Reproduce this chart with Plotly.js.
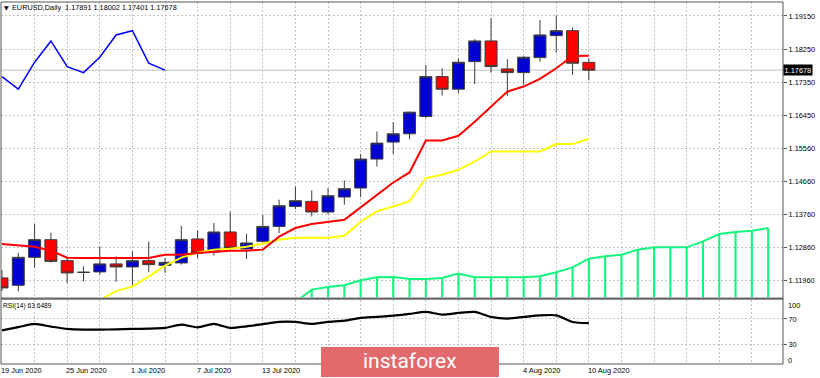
<!DOCTYPE html>
<html><head><meta charset="utf-8">
<script src="https://cdn.plot.ly/plotly-3.0.1.min.js"></script>
<style>html,body{margin:0;padding:0;background:#fff;}#chart{width:820px;height:378px;}</style>
</head><body><div id="chart"></div>
<script>
// ---- data (bar index 0 = 19 Jun 2020) ----
const dates = ['19 Jun 2020','22 Jun 2020','23 Jun 2020','24 Jun 2020','25 Jun 2020','26 Jun 2020','29 Jun 2020','30 Jun 2020',
 '1 Jul 2020','2 Jul 2020','3 Jul 2020','6 Jul 2020','7 Jul 2020','8 Jul 2020','9 Jul 2020','10 Jul 2020','13 Jul 2020','14 Jul 2020',
 '15 Jul 2020','16 Jul 2020','17 Jul 2020','20 Jul 2020','21 Jul 2020','22 Jul 2020','23 Jul 2020','24 Jul 2020','27 Jul 2020',
 '28 Jul 2020','29 Jul 2020','30 Jul 2020','31 Jul 2020','3 Aug 2020','4 Aug 2020','5 Aug 2020','6 Aug 2020','7 Aug 2020','10 Aug 2020'];
// date labels that are visible (the others sit under the watermark)
const dateLabelIdx = [0, 4, 8, 12, 16, 32, 36];
const open  = [1.12034,1.11833,1.12593,1.13073,1.12503,1.12186,1.12197,1.12414,1.12332,1.12503,1.12376,1.12441,1.13092,1.12739,1.13282,1.12820,1.13027,1.13434,1.13976,1.14112,1.13824,1.14231,1.14476,1.15262,1.15724,1.15949,1.16418,1.17503,1.17161,1.17910,1.18472,1.17712,1.17612,1.18019,1.18616,1.18751,1.17891];
const high  = [1.12250,1.12712,1.13499,1.13263,1.12576,1.12348,1.12891,1.12620,1.12756,1.13027,1.12576,1.13453,1.13325,1.13526,1.13832,1.13236,1.13751,1.14158,1.14519,1.14410,1.14476,1.14682,1.15398,1.16011,1.16266,1.16554,1.17821,1.17731,1.18000,1.18520,1.19088,1.17975,1.18060,1.19041,1.19158,1.18843,1.18002];
const low   = [1.11680,1.11670,1.12305,1.12441,1.11898,1.11942,1.12123,1.11925,1.11833,1.12186,1.12169,1.12400,1.12576,1.12639,1.12802,1.12549,1.12991,1.13255,1.13900,1.13705,1.13770,1.14022,1.14231,1.15062,1.15398,1.15805,1.16380,1.16988,1.17050,1.17305,1.17612,1.16980,1.17278,1.17910,1.18154,1.17549,1.17401];
const close = [1.11763,1.12593,1.13073,1.12484,1.12169,1.12186,1.12414,1.12332,1.12503,1.12395,1.12457,1.13073,1.12712,1.13282,1.12848,1.12983,1.13434,1.13995,1.14131,1.13824,1.14267,1.14457,1.15262,1.15696,1.15949,1.16537,1.17503,1.17161,1.17894,1.18472,1.17775,1.17612,1.18030,1.18635,1.18751,1.17867,1.17678];
const tenkan = [1.12956,1.12924,1.12883,1.12774,1.12585,1.12576,1.12576,1.12576,1.12576,1.12576,1.12666,1.12666,1.12712,1.12747,1.12774,1.12774,1.12802,1.13154,1.13390,1.13499,1.13553,1.13615,1.13949,1.14294,1.14627,1.14899,1.15767,1.15767,1.15894,1.16274,1.16689,1.17096,1.17232,1.17441,1.17731,1.18065,1.18073];
const kijunStart = 6;
const kijun = [1.11430,1.11675,1.11798,1.12069,1.12367,1.12585,1.12720,1.12802,1.12829,1.12883,1.12964,1.13073,1.13127,1.13127,1.13127,1.13181,1.13561,1.13841,1.13968,1.14112,1.14747,1.14836,1.14972,1.15197,1.15468,1.15468,1.15468,1.15468,1.15669,1.15669,1.15813];
const cloudStart = 18;
const cloud = [1.11377,1.11716,1.11790,1.11833,1.11969,1.12050,1.12061,1.12007,1.12007,1.12034,1.12150,1.12050,1.12050,1.12050,1.12050,1.12077,1.12186,1.12321,1.12557,1.12620,1.12666,1.12802,1.12864,1.12864,1.12864,1.13027,1.13227,1.13282,1.13317,1.13390];
const chikouShift = 26;
const rsi = [52.3,57.3,62.3,58.1,54.5,53.4,53.4,53.9,54.5,55.0,56.1,61.2,57.0,62.3,56.1,58.6,62.0,65.4,65.4,62.3,65.4,67.4,71.7,73.2,75.2,77.9,81.0,76.8,79.4,81.0,73.2,70.6,73.2,75.7,75.7,65.4,63.6489];
const priceTicks = [1.1196,1.1286,1.1376,1.1466,1.1556,1.1645,1.1735,1.1825,1.1915];
const rsiTicks = [30,70];

// ---- derived ----
const idx = close.map((_, i) => i);
const kijunX = kijun.map((_, i) => i + kijunStart);
const cloudX = cloud.map((_, i) => i + cloudStart);
const chikou = close.slice(chikouShift);
const chikouX = chikou.map((_, i) => i);
const last = close.length - 1;
const yRange = [1.11499, 1.19530];

const FONT = 'Liberation Sans, Arial, sans-serif';
const GRID = '#c4c4c4';
const GREEN = '#14f57e';

const traces = [
  {type:'bar', x: cloudX, y: cloud.map(v => v - yRange[0]), base: yRange[0], width: 0.13,
   marker:{color: GREEN, line:{width:0}}, xaxis:'x', yaxis:'y', hoverinfo:'skip'},
  {type:'scatter', mode:'lines', x: cloudX, y: cloud, line:{color: GREEN, width:2}, xaxis:'x', yaxis:'y', hoverinfo:'skip'},
  {type:'candlestick', x: idx, open, high, low, close, xaxis:'x', yaxis:'y', whiskerwidth:0,
   increasing:{fillcolor:'#0000d0', line:{color:'#3c3c3c', width:1}},
   decreasing:{fillcolor:'#ff0000', line:{color:'#3c3c3c', width:1}}, hoverinfo:'skip'},
  {type:'scatter', mode:'lines', x: kijunX, y: kijun, line:{color:'#ffff00', width:2}, xaxis:'x', yaxis:'y', hoverinfo:'skip'},
  {type:'scatter', mode:'lines', x: idx, y: tenkan, line:{color:'#ff0000', width:2}, xaxis:'x', yaxis:'y', hoverinfo:'skip'},
  {type:'scatter', mode:'lines', x: chikouX, y: chikou, line:{color:'#0000ff', width:1.5}, xaxis:'x', yaxis:'y', hoverinfo:'skip'},
  {type:'scatter', mode:'lines', x: idx, y: rsi, line:{color:'#000000', width:2.2, shape:'spline', smoothing:0.6}, xaxis:'x', yaxis:'y2', hoverinfo:'skip'}
];

// pixel geometry helpers (paper = plot area 1..783 x, 2..364 y)
const H = 362;
const py = px => (364 - px) / H;

const annotations = [];
dateLabelIdx.forEach(i => {
  annotations.push({x: i, xref:'x', y: py(370.5), yref:'paper', xanchor:'left', yanchor:'middle', xshift:-3,
    text: dates[i], showarrow:false, font:{family:FONT, size:7.4, color:'#000'}});
});
const fmt = v => v.toFixed(5);
annotations.push({x: 0.0, xref:'paper', y: py(7), yref:'paper', xanchor:'left', yanchor:'middle', xshift:1,
  text:'▼', showarrow:false, font:{family:'DejaVu Sans, sans-serif', size:6, color:'#000'}});
annotations.push({x: 0.0, xref:'paper', y: py(7), yref:'paper', xanchor:'left', yanchor:'middle', xshift:9,
  text:'EURUSD,Daily  ' + [open[last], high[last], low[last], close[last]].map(fmt).join(' '),
  showarrow:false, font:{family:FONT, size:7.3, color:'#000'}});
annotations.push({x: 0.0, xref:'paper', y: py(305.5), yref:'paper', xanchor:'left', yanchor:'middle', xshift:0,
  text:'RSI(14) ' + rsi[last].toFixed(4), showarrow:false, font:{family:FONT, size:6.6, color:'#000'}});
annotations.push({x: 1, xref:'paper', y: close[last], yref:'y', xanchor:'left', yanchor:'middle', xshift:0,
  text: fmt(close[last]), bgcolor:'#000', borderpad:0.5, showarrow:false, font:{family:FONT, size:7.4, color:'#fff'}});
annotations.push({x: 1, xref:'paper', y: py(305), yref:'paper', xanchor:'left', yanchor:'middle', xshift:3,
  text:'100', showarrow:false, font:{family:FONT, size:7.4, color:'#000'}});
annotations.push({x: 1, xref:'paper', y: py(360), yref:'paper', xanchor:'left', yanchor:'middle', xshift:3,
  text:'0', showarrow:false, font:{family:FONT, size:7.4, color:'#000'}});
annotations.push({x: (410 - 1) / 782, xref:'paper', y: py(361), yref:'paper', xanchor:'center', yanchor:'middle',
  text:'instaforex', showarrow:false, font:{family:'Roboto, Open Sans, sans-serif', size:21, color:'#ffffff'}});

const shapes = [
  {type:'line', xref:'paper', x0:0, x1:1, yref:'y', y0: close[last], y1: close[last], line:{color:'#c0c0c0', width:1}, layer:'below'},
  {type:'rect', xref:'paper', x0:0, x1:1, yref:'paper', y0: py(299.8), y1: py(297.4), fillcolor:'#6a6a6a', line:{width:0}},
  {type:'rect', xref:'paper', x0:0, x1:1, yref:'paper', y0:0, y1:1, line:{color:'#555', width:1}},
  {type:'rect', xref:'paper', x0:(321 - 1)/782, x1:(499 - 1)/782, yref:'paper', y0: py(377), y1: py(347),
   fillcolor:'#e26a6c', line:{width:0}, layer:'above'}
];

const layout = {
  width:820, height:378,
  margin:{l:1, r:37, t:2, b:14, pad:0},
  paper_bgcolor:'#ffffff', plot_bgcolor:'#ffffff',
  showlegend:false, boxgap:0.264, boxgroupgap:0, barmode:'overlay',
  xaxis:{domain:[0,1], range:[-0.061, 47.91], anchor:'y2', showticklabels:false, ticks:'',
    showgrid:true, gridcolor:GRID, griddash:'2px,2px', gridwidth:1, tick0:0, dtick:2,
    zeroline:false, showline:false, rangeslider:{visible:false}, fixedrange:true},
  yaxis:{domain:[py(297.6), 1], range:yRange, side:'right', anchor:'x', tickmode:'array',
    tickvals:priceTicks, ticktext:priceTicks.map(fmt), ticks:'outside', ticklen:3, tickcolor:'#555',
    tickfont:{family:FONT, size:7.4, color:'#000'}, showgrid:true, gridcolor:GRID, griddash:'2px,2px',
    zeroline:false, showline:false, fixedrange:true},
  yaxis2:{domain:[0, py(299.7)], range:[0,100], side:'right', anchor:'x', tickmode:'array',
    tickvals:rsiTicks, ticktext:rsiTicks.map(String), ticks:'outside', ticklen:3, tickcolor:'#555',
    tickfont:{family:FONT, size:7.4, color:'#000'}, showgrid:true, gridcolor:GRID, griddash:'2px,2px',
    zeroline:false, showline:false, fixedrange:true},
  annotations, shapes
};

Plotly.newPlot('chart', traces, layout, {staticPlot:true, displayModeBar:false});
</script>
</body></html>
